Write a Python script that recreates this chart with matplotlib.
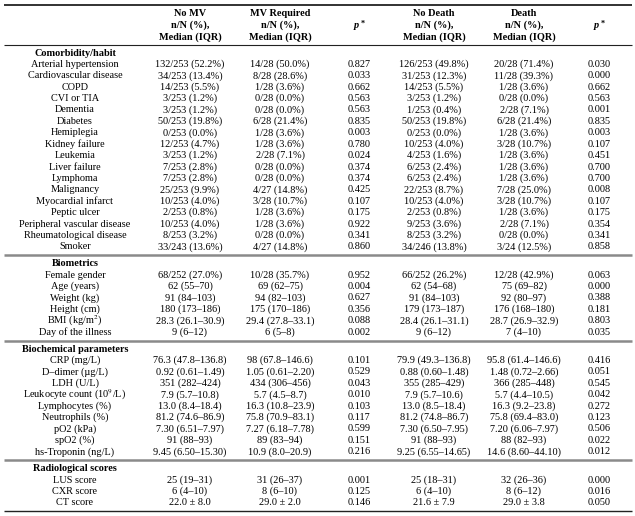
import matplotlib.pyplot as plt

plt.rcParams['font.family'] = ['Liberation Serif', 'DejaVu Serif']
plt.rcParams['mathtext.fontset'] = 'stix'

# column headers
col_heads = ["No MV", "MV Required", "No Death", "Death"]

# Comorbidity/habit
comorb_labels = ["Arterial hypertension", "Cardiovascular disease", "COPD", "CVI or TIA",
                 "Dementia", "Diabetes", "Hemiplegia", "Kidney failure", "Leukemia",
                 "Liver failure", "Lymphoma", "Malignancy", "Myocardial infarct",
                 "Peptic ulcer", "Peripheral vascular disease", "Rheumatological disease",
                 "Smoker"]
comorb_no_mv = ["132/253 (52.2%)", "34/253 (13.4%)", "14/253 (5.5%)", "3/253 (1.2%)",
                "3/253 (1.2%)", "50/253 (19.8%)", "0/253 (0.0%)", "12/253 (4.7%)",
                "3/253 (1.2%)", "7/253 (2.8%)", "7/253 (2.8%)", "25/253 (9.9%)",
                "10/253 (4.0%)", "2/253 (0.8%)", "10/253 (4.0%)", "8/253 (3.2%)",
                "33/243 (13.6%)"]
comorb_mv = ["14/28 (50.0%)", "8/28 (28.6%)", "1/28 (3.6%)", "0/28 (0.0%)", "0/28 (0.0%)",
             "6/28 (21.4%)", "1/28 (3.6%)", "1/28 (3.6%)", "2/28 (7.1%)", "0/28 (0.0%)",
             "0/28 (0.0%)", "4/27 (14.8%)", "3/28 (10.7%)", "1/28 (3.6%)", "1/28 (3.6%)",
             "0/28 (0.0%)", "4/27 (14.8%)"]
comorb_p_mv = ["0.827", "0.033", "0.662", "0.563", "0.563", "0.835", "0.003", "0.780",
               "0.024", "0.374", "0.374", "0.425", "0.107", "0.175", "0.922", "0.341",
               "0.860"]
comorb_no_death = ["126/253 (49.8%)", "31/253 (12.3%)", "14/253 (5.5%)", "3/253 (1.2%)",
                   "1/253 (0.4%)", "50/253 (19.8%)", "0/253 (0.0%)", "10/253 (4.0%)",
                   "4/253 (1.6%)", "6/253 (2.4%)", "6/253 (2.4%)", "22/253 (8.7%)",
                   "10/253 (4.0%)", "2/253 (0.8%)", "9/253 (3.6%)", "8/253 (3.2%)",
                   "34/246 (13.8%)"]
comorb_death = ["20/28 (71.4%)", "11/28 (39.3%)", "1/28 (3.6%)", "0/28 (0.0%)",
                "2/28 (7.1%)", "6/28 (21.4%)", "1/28 (3.6%)", "3/28 (10.7%)",
                "1/28 (3.6%)", "1/28 (3.6%)", "1/28 (3.6%)", "7/28 (25.0%)",
                "3/28 (10.7%)", "1/28 (3.6%)", "2/28 (7.1%)", "0/28 (0.0%)",
                "3/24 (12.5%)"]
comorb_p_death = ["0.030", "0.000", "0.662", "0.563", "0.001", "0.835", "0.003", "0.107",
                  "0.451", "0.700", "0.700", "0.008", "0.107", "0.175", "0.354", "0.341",
                  "0.858"]

# Biometrics
bio_labels = ["Female gender", "Age (years)", "Weight (kg)", "Height (cm)",
              "BMI (kg/m$^{2}$)", "Day of the illness"]
bio_no_mv = ["68/252 (27.0%)", "62 (55–70)", "91 (84–103)", "180 (173–186)",
             "28.3 (26.1–30.9)", "9 (6–12)"]
bio_mv = ["10/28 (35.7%)", "69 (62–75)", "94 (82–103)", "175 (170–186)",
          "29.4 (27.8–33.1)", "6 (5–8)"]
bio_p_mv = ["0.952", "0.004", "0.627", "0.356", "0.088", "0.002"]
bio_no_death = ["66/252 (26.2%)", "62 (54–68)", "91 (84–103)", "179 (173–187)",
                "28.4 (26.1–31.1)", "9 (6–12)"]
bio_death = ["12/28 (42.9%)", "75 (69–82)", "92 (80–97)", "176 (168–180)",
             "28.7 (26.9–32.9)", "7 (4–10)"]
bio_p_death = ["0.063", "0.000", "0.388", "0.181", "0.803", "0.035"]

# Biochemical parameters
chem_labels = ["CRP (mg/L)", "D–dimer (µg/L)", "LDH (U/L)", "Leukocyte count (10$^{9}$/L)",
               "Lymphocytes (%)", "Neutrophils (%)", "pO2 (kPa)", "spO2 (%)",
               "hs-Troponin (ng/L)"]
chem_no_mv = ["76.3 (47.8–136.8)", "0.92 (0.61–1.49)", "351 (282–424)", "7.9 (5.7–10.8)",
              "13.0 (8.4–18.4)", "81.2 (74.6–86.9)", "7.30 (6.51–7.97)", "91 (88–93)",
              "9.45 (6.50–15.30)"]
chem_mv = ["98 (67.8–146.6)", "1.05 (0.61–2.20)", "434 (306–456)", "5.7 (4.5–8.7)",
           "16.3 (10.8–23.9)", "75.8 (70.9–83.1)", "7.27 (6.18–7.78)", "89 (83–94)",
           "10.9 (8.0–20.9)"]
chem_p_mv = ["0.101", "0.529", "0.043", "0.010", "0.103", "0.117", "0.599", "0.151", "0.216"]
chem_no_death = ["79.9 (49.3–136.8)", "0.88 (0.60–1.48)", "355 (285–429)", "7.9 (5.7–10.6)",
                 "13.0 (8.5–18.4)", "81.2 (74.8–86.7)", "7.30 (6.50–7.95)", "91 (88–93)",
                 "9.25 (6.55–14.65)"]
chem_death = ["95.8 (61.4–146.6)", "1.48 (0.72–2.66)", "366 (285–448)", "5.7 (4.4–10.5)",
              "16.3 (9.2–23.8)", "75.8 (69.4–83.0)", "7.20 (6.06–7.97)", "88 (82–93)",
              "14.6 (8.60–44.10)"]
chem_p_death = ["0.416", "0.051", "0.545", "0.042", "0.272", "0.123", "0.506", "0.022", "0.012"]

# Radiological scores
rad_labels = ["LUS score", "CXR score", "CT score"]
rad_no_mv = ["25 (19–31)", "6 (4–10)", "22.0 ± 8.0"]
rad_mv = ["31 (26–37)", "8 (6–10)", "29.0 ± 2.0"]
rad_p_mv = ["0.001", "0.125", "0.146"]
rad_no_death = ["25 (18–31)", "6 (4–10)", "21.6 ± 7.9"]
rad_death = ["32 (26–36)", "8 (6–12)", "29.0 ± 3.8"]
rad_p_death = ["0.000", "0.016", "0.050"]

sections = [
    ("Comorbidity/habit", comorb_labels, [comorb_no_mv, comorb_mv, comorb_p_mv,
                                          comorb_no_death, comorb_death, comorb_p_death]),
    ("Biometrics", bio_labels, [bio_no_mv, bio_mv, bio_p_mv,
                                bio_no_death, bio_death, bio_p_death]),
    ("Biochemical parameters", chem_labels, [chem_no_mv, chem_mv, chem_p_mv,
                                             chem_no_death, chem_death, chem_p_death]),
    ("Radiological scores", rad_labels, [rad_no_mv, rad_mv, rad_p_mv,
                                         rad_no_death, rad_death, rad_p_death]),
]

fig = plt.figure(figsize=(6.35, 5.16), dpi=100)
ax = fig.add_axes([0, 0, 1, 1])
ax.set_xlim(0, 635)
ax.set_ylim(516, 0)
ax.axis('off')

fs = 7.4
label_x = 75
col_x = [190, 280, 359, 434, 524, 599]
x0, x1 = 4, 632
pitch = 11.4

# header
ax.plot([x0, x1], [5, 5], color='#222222', lw=1.3, solid_capstyle='butt')
for cx, name in zip([col_x[0], col_x[1], col_x[3], col_x[4]], col_heads):
    for dy, t in zip([14, 25.5, 37], [name, "n/N (%),", "Median (IQR)"]):
        ax.text(cx, dy, t, ha='center', va='center', fontsize=fs, fontweight='bold')
for cx in [col_x[2], col_x[5]]:
    ax.text(cx - 2.5, 25.5, "p", ha='center', va='center', fontsize=fs,
            fontweight='bold', fontstyle='italic')
    ax.text(cx + 2, 23.5, "*", ha='left', va='center', fontsize=fs - 1.5, fontweight='bold')
ax.plot([x0, x1], [45, 45], color='#222222', lw=0.8, solid_capstyle='butt')

y = 53
for i, (title, labels, cols) in enumerate(sections):
    ax.text(label_x, y, title, ha='center', va='center', fontsize=fs, fontweight='bold')
    for r, lab in enumerate(labels):
        y += pitch
        ax.text(label_x, y, lab, ha='center', va='center', fontsize=fs)
        for cx, col in zip(col_x, cols):
            ax.text(cx, y, col[r], ha='center', va='center', fontsize=fs)
    if i < len(sections) - 1:
        ax.plot([x0, x1], [y + 8.5, y + 8.5], color='#8a8a8a', lw=1.8, solid_capstyle='butt')
        y += 17
    else:
        ax.plot([x0, x1], [y + 8, y + 8], color='#222222', lw=1.0, solid_capstyle='butt')

fig.savefig('out.png', dpi=100)
